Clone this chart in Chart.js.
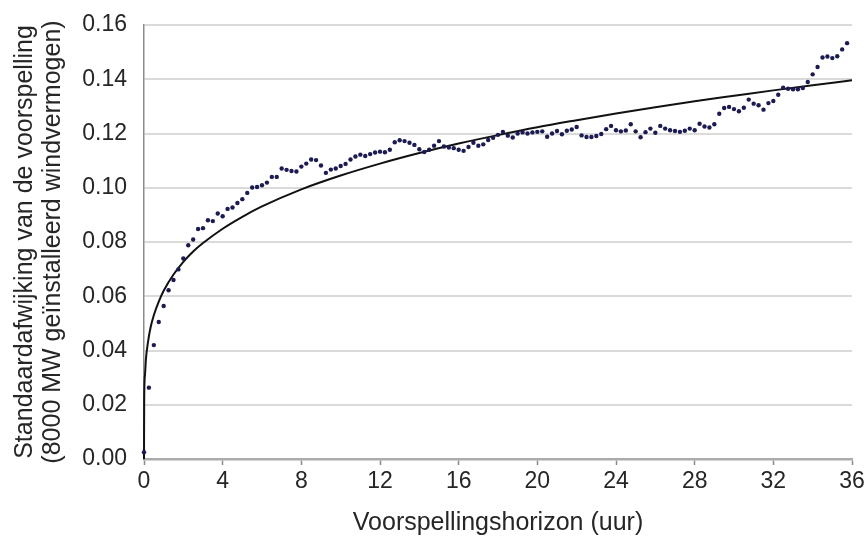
<!DOCTYPE html>
<html>
<head>
<meta charset="utf-8">
<script src="https://cdn.jsdelivr.net/npm/chart.js@4/dist/chart.umd.min.js"></script>
<style>
  html, body { margin: 0; padding: 0; background: #ffffff; }
  canvas { display: block; }
</style>
</head>
<body>
<canvas id="chart" width="865" height="536"></canvas>
<script>
// Forecast horizon in hours (quarter-hour steps)
const horizonHours = [
  0, 0.25, 0.5, 0.75, 1, 1.25, 1.5, 1.75, 2, 2.25, 2.5, 2.75,
  3, 3.25, 3.5, 3.75, 4, 4.25, 4.5, 4.75, 5, 5.25, 5.5, 5.75,
  6, 6.25, 6.5, 6.75, 7, 7.25, 7.5, 7.75, 8, 8.25, 8.5, 8.75,
  9, 9.25, 9.5, 9.75, 10, 10.25, 10.5, 10.75, 11, 11.25, 11.5, 11.75,
  12, 12.25, 12.5, 12.75, 13, 13.25, 13.5, 13.75, 14, 14.25, 14.5, 14.75,
  15, 15.25, 15.5, 15.75, 16, 16.25, 16.5, 16.75, 17, 17.25, 17.5, 17.75,
  18, 18.25, 18.5, 18.75, 19, 19.25, 19.5, 19.75, 20, 20.25, 20.5, 20.75,
  21, 21.25, 21.5, 21.75, 22, 22.25, 22.5, 22.75, 23, 23.25, 23.5, 23.75,
  24, 24.25, 24.5, 24.75, 25, 25.25, 25.5, 25.75, 26, 26.25, 26.5, 26.75,
  27, 27.25, 27.5, 27.75, 28, 28.25, 28.5, 28.75, 29, 29.25, 29.5, 29.75,
  30, 30.25, 30.5, 30.75, 31, 31.25, 31.5, 31.75, 32, 32.25, 32.5, 32.75,
  33, 33.25, 33.5, 33.75, 34, 34.25, 34.5, 34.75, 35, 35.25, 35.5, 35.75
];

// Standard deviation of the forecast error (fraction of 8000 MW installed)
const stdDev = [
  0.0025, 0.0263, 0.0420, 0.0505, 0.0564, 0.0622, 0.0660, 0.0699, 0.0739, 0.0788, 0.0809, 0.0848,
  0.0851, 0.0880, 0.0877, 0.0905, 0.0895, 0.0922, 0.0927, 0.0944, 0.0958, 0.0981, 0.1001, 0.1003,
  0.1009, 0.1019, 0.1040, 0.1040, 0.1071, 0.1066, 0.1062, 0.1060, 0.1078, 0.1089, 0.1104, 0.1102,
  0.1082, 0.1055, 0.1067, 0.1071, 0.1080, 0.1088, 0.1104, 0.1115, 0.1122, 0.1117, 0.1124, 0.1130,
  0.1133, 0.1131, 0.1140, 0.1168, 0.1175, 0.1172, 0.1166, 0.1158, 0.1142, 0.1132, 0.1140, 0.1155,
  0.1172, 0.1152, 0.1148, 0.1146, 0.1140, 0.1136, 0.1150, 0.1166, 0.1155, 0.1160, 0.1176, 0.1184,
  0.1195, 0.1206, 0.1192, 0.1185, 0.1200, 0.1204, 0.1200, 0.1204, 0.1206, 0.1208, 0.1188, 0.1200,
  0.1209, 0.1197, 0.1210, 0.1215, 0.1224, 0.1193, 0.1187, 0.1187, 0.1191, 0.1198, 0.1216, 0.1228,
  0.1212, 0.1208, 0.1211, 0.1234, 0.1208, 0.1186, 0.1205, 0.1218, 0.1203, 0.1228, 0.1218, 0.1212,
  0.1209, 0.1206, 0.1210, 0.1218, 0.1212, 0.1236, 0.1226, 0.1222, 0.1234, 0.1273, 0.1294, 0.1298,
  0.1290, 0.1282, 0.1295, 0.1325, 0.1310, 0.1304, 0.1288, 0.1312, 0.1320, 0.1343, 0.1369, 0.1365,
  0.1363, 0.1363, 0.1368, 0.1390, 0.1418, 0.1445, 0.1480, 0.1484, 0.1478, 0.1485, 0.1510, 0.1533
];

// Fitted trend curve, sampled along the horizon
const fitHours = [0, 0.01, 0.05, 0.1, 0.2, 0.35, 0.5, 0.75, 1, 1.5, 2, 2.5, 3, 4, 5, 6, 8, 10,
                  12, 14, 16, 18, 20, 22, 24, 26, 28, 30, 32, 34, 36];
const fitStdDev = [0, 0.022, 0.031, 0.037, 0.043, 0.049, 0.053, 0.058, 0.062, 0.068, 0.0727, 0.0765,
                   0.0796, 0.0849, 0.0893, 0.0931, 0.0994, 0.1045, 0.1089, 0.1128, 0.1163, 0.1194,
                   0.1223, 0.1249, 0.1274, 0.1297, 0.1319, 0.1339, 0.1359, 0.1378, 0.1396];

const xTicks = [0, 4, 8, 12, 16, 20, 24, 28, 32, 36];
const yTicks = [0, 0.02, 0.04, 0.06, 0.08, 0.10, 0.12, 0.14, 0.16];

const FONT = "'Liberation Sans', Arial, sans-serif";
const TEXT = '#262626';

const pts = horizonHours.map((h, i) => ({ x: h, y: stdDev[i] }));
const fit = fitHours.map((h, i) => ({ x: h, y: fitStdDev[i] }));

new Chart(document.getElementById('chart'), {
  type: 'scatter',
  data: {
    datasets: [
      {
        label: 'Trend',
        data: fit,
        showLine: true,
        borderColor: '#111111',
        borderWidth: 2,
        pointRadius: 0,
        cubicInterpolationMode: 'monotone',
        clip: false,
        order: 2
      },
      {
        label: 'Standaardafwijking',
        data: pts,
        showLine: false,
        pointRadius: 2.2,
        pointBorderWidth: 0,
        backgroundColor: '#1b1b52',
        borderColor: '#1b1b52',
        clip: false,
        order: 1
      }
    ]
  },
  options: {
    responsive: false,
    animation: false,
    devicePixelRatio: 1,
    layout: { padding: { top: 25, right: 13, left: 0, bottom: 0 } },
    plugins: { legend: { display: false }, tooltip: { enabled: false } },
    scales: {
      x: {
        type: 'linear',
        min: 0,
        max: 36,
        afterBuildTicks: s => { s.ticks = xTicks.map(v => ({ value: v })); },
        afterFit: s => { s.height = 77; s.paddingLeft = 0; s.paddingRight = 0; },
        ticks: {
          autoSkip: false,
          maxRotation: 0,
          padding: 3,
          color: TEXT,
          font: { family: FONT, size: 23 }
        },
        grid: {
          drawOnChartArea: false,
          drawTicks: true,
          tickLength: 6,
          tickColor: '#8a8a8a',
          tickWidth: 1.5
        },
        border: { color: '#ababab', width: 2.5 },
        title: {
          display: true,
          text: 'Voorspellingshorizon (uur)',
          color: TEXT,
          font: { family: FONT, size: 25, lineHeight: 1 },
          padding: { top: 0, bottom: 0 }
        }
      },
      y: {
        type: 'linear',
        min: 0,
        max: 0.16,
        afterBuildTicks: s => { s.ticks = yTicks.map(v => ({ value: v })); },
        afterFit: s => { s.width = 144; s.paddingTop = 0; s.paddingBottom = 0; },
        ticks: {
          padding: 17,
          color: TEXT,
          font: { family: FONT, size: 23 },
          callback: v => v.toFixed(2)
        },
        grid: {
          color: '#dadada',
          lineWidth: 2,
          drawTicks: false
        },
        border: { color: '#8c8c8c', width: 1.5 },
        title: {
          display: true,
          text: ['Standaardafwijking van de voorspelling', '(8000 MW geïnstalleerd windvermogen)'],
          color: TEXT,
          font: { family: FONT, size: 25, lineHeight: 1.12 },
          padding: { top: 11, bottom: 0 }
        }
      }
    }
  }
});
</script>
</body>
</html>
